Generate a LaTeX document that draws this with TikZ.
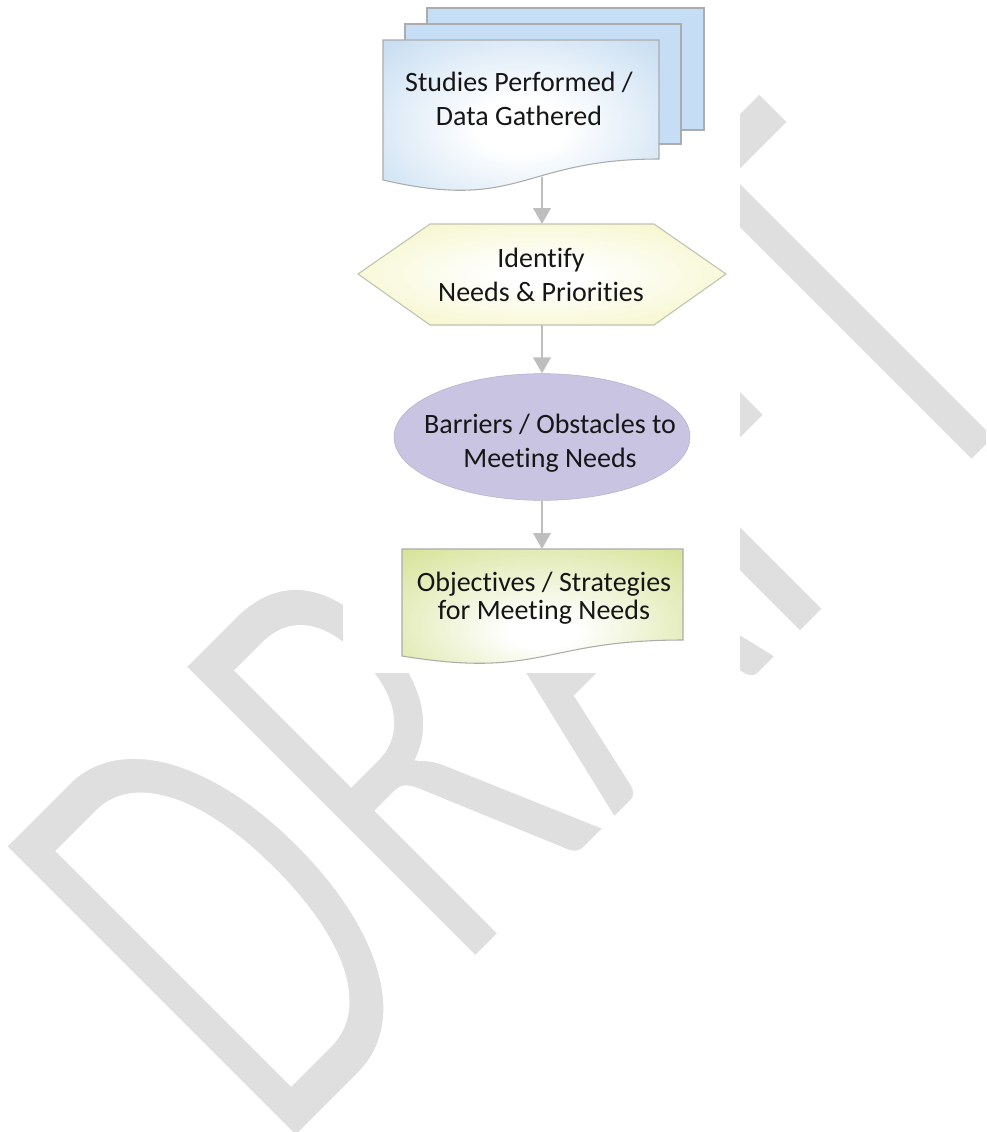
\documentclass[tikz,border=0pt]{standalone}
\usepackage{fontspec}
\setmainfont{Carlito}[Ligatures={NoCommon,NoRare}]
\usetikzlibrary{arrows.meta,shapes.geometric}

\definecolor{wmgray}{RGB}{223,223,223}
\definecolor{docblue}{RGB}{184,212,238}
\definecolor{pageblue}{RGB}{198,222,245}
\definecolor{hexyellow}{RGB}{243,243,186}
\definecolor{ovallilac}{RGB}{200,196,226}
\definecolor{objgreen}{RGB}{209,224,140}
\definecolor{edgegray}{RGB}{172,172,172}
\definecolor{flowgray}{RGB}{190,190,190}
\definecolor{textdark}{RGB}{22,22,22}

\pgfdeclareradialshading{docshade}{\pgfpoint{0bp}{0bp}}{color(0bp)=(white); color(8bp)=(white); color(42bp)=(docblue); color(50bp)=(docblue)}
\pgfdeclareradialshading{hexshade}{\pgfpoint{0bp}{0bp}}{color(0bp)=(white); color(6bp)=(white); color(40bp)=(hexyellow); color(50bp)=(hexyellow)}
\pgfdeclareradialshading{objshade}{\pgfpoint{0bp}{-8bp}}{color(0bp)=(white); color(6bp)=(white); color(40bp)=(objgreen); color(50bp)=(objgreen)}

% thinner strokes for the watermark letters
\newcommand{\thinwm}[1]{\special{pdf:code q 2 Tr 1 1 1 RG 4.5 w}#1\special{pdf:code Q}}

\tikzset{
    wmark/.style={anchor=base west, inner sep=0pt, text=wmgray,
        font=\fontsize{308}{308}\selectfont, rotate=45, yscale=1.583},
    doctext/.style={align=center, inner sep=0pt, text=textdark,
        font=\fontsize{21}{25.5}\selectfont},
    pageback/.style={fill=pageblue, draw=edgegray, line width=0.8pt},
    docfront/.style={shading=docshade, draw=edgegray, line width=0.8pt},
    hexbox/.style={shading=hexshade, draw=edgegray!70!hexyellow, line width=0.8pt},
    oval/.style={ellipse, fill=ovallilac, draw=ovallilac!90!black, line width=0.4pt,
        minimum width=222pt, minimum height=95pt, inner sep=0pt},
    docgreen/.style={shading=objshade, draw=edgegray, line width=0.8pt},
    flow/.style={draw=flowgray, line width=2pt, -{Triangle[length=12pt, width=13pt]}}
}

\begin{document}
\begin{tikzpicture}[x=0.75pt, y=-0.75pt]
    \useasboundingbox (0,0) rectangle (986,1132);
    \clip (0,0) rectangle (986,1132);

    % watermark and the blank panel behind the chart
    \node[wmark] (draft) at (277,1160) {\thinwm{DRAFT}};
    \fill[white] (343,0) rectangle (740,673);

    % shapes
    \draw[pageback] (427,8) rectangle (704,130);
    \draw[pageback] (405,24) rectangle (681,144);
    \draw[docfront] (383,40) -- (659,40) -- (659,159)
        .. controls (521,159) and (521,212) .. (383,180) -- cycle;
    \draw[hexbox] (358,274) -- (430,224) -- (654,224) -- (726,274)
        -- (654,325) -- (430,325) -- cycle;
    \node[oval] (barriers) at (542,437) {};
    \draw[docgreen] (402,549) -- (683,549) -- (683,640)
        .. controls (542,640) and (542,679) .. (402,656) -- cycle;

    % texts
    \node[doctext] (studies)      at (519,99)  {Studies Performed /\\Data Gathered};
    \node[doctext] (needs)        at (541,275) {Identify\\Needs \& Priorities};
    \node[doctext] (barrierstext) at (550,443) {Barriers / Obstacles to\\Meeting Needs};
    \node[doctext, font=\fontsize{21}{21}\selectfont]
                   (objectives)   at (544,598) {Objectives / Strategies\\for Meeting Needs};

    % connectors
    \coordinate (studiesbot)    at (542,177);
    \coordinate (needstop)      at (542,224);
    \coordinate (needsbot)      at (542,325);
    \coordinate (objectivestop) at (542,549);
    \draw[flow] (studiesbot)       -- (needstop);
    \draw[flow] (needsbot)         -- (barriers.north);
    \draw[flow] (barriers.south)   -- (objectivestop);
\end{tikzpicture}
\end{document}
